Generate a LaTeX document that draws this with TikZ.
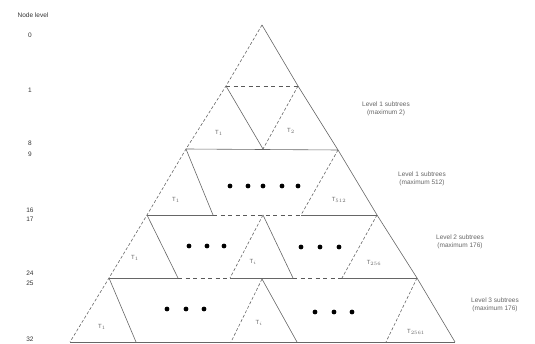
\documentclass[tikz,border=0pt]{standalone}
\usepackage{fontspec}
\setmainfont{Liberation Sans}
\begin{document}
\begin{tikzpicture}[x=1pt,y=-1pt,
  sl/.style={draw=black!60, line width=0.6pt},
  dl/.style={draw=black!60, line width=0.6pt, dash pattern=on 3pt off 2pt},
  hd/.style={draw=black!65, line width=0.6pt, dash pattern=on 4pt off 3.5pt},
  bigdot/.style={circle, fill=black, inner sep=0pt, minimum size=4.8pt},
  tlabel/.style={font=\fontsize{6}{7}\selectfont, text=black!60, inner sep=0pt},
  lvl/.style={font=\fontsize{6.5}{7}\selectfont, text=black!80, inner sep=0pt},
  side/.style={font=\fontsize{6.5}{8.5}\selectfont, text=black!60, align=center, inner sep=0pt}]
\useasboundingbox (0,0) rectangle (535,344);
% key coordinates
\coordinate (A) at (262,25);
\coordinate (L1) at (226,86);   \coordinate (R1) at (298,86);
\coordinate (L9) at (186,149);  \coordinate (M9) at (263,149);  \coordinate (R9) at (338,150);
\coordinate (L17) at (147,215); \coordinate (R17) at (377,215);
\coordinate (a17) at (213,215); \coordinate (b17) at (301,215); \coordinate (M17) at (263,215);
\coordinate (L25) at (109,278); \coordinate (R25) at (417,278);
\coordinate (a25) at (178,278); \coordinate (b25) at (230,278); \coordinate (c25) at (293,278); \coordinate (d25) at (342,278);
\coordinate (M25) at (262,279);
\coordinate (L32) at (70,342);  \coordinate (R32) at (455,342);
\coordinate (a32) at (136,342); \coordinate (b32) at (231,342); \coordinate (c32) at (297,342); \coordinate (d32) at (386,342);
% outer triangle
\draw[dl] (A) -- (L1) -- (L9) -- (L17) -- (L25) -- (L32);
\draw[sl] (A) -- (R1) -- (R9) -- (R17) -- (R25) -- (R32);
\draw[sl] (L32) -- (R32);
% level 1
\draw[hd] (L1) -- (R1);
\draw[sl] (L1) -- (M9);
\draw[dl] (R1) -- (M9);
% level 9
\draw[sl] (L9) -- (R9);
\draw[sl] (L9) -- (a17);
\draw[dl] (R9) -- (b17);
% level 17
\draw[sl] (L17) -- (a17);
\draw[hd] (a17) -- (b17);
\draw[sl] (b17) -- (R17);
\draw[sl] (L17) -- (a25);
\draw[dl] (M17) -- (b25);
\draw[sl] (M17) -- (c25);
\draw[dl] (R17) -- (d25);
% level 25
\draw[sl] (L25) -- (a25);
\draw[hd] (a25) -- (b25);
\draw[sl] (b25) -- (c25);
\draw[hd] (c25) -- (d25);
\draw[sl] (d25) -- (R25);
\draw[sl] (L25) -- (a32);
\draw[dl] (M25) -- (b32);
\draw[sl] (M25) -- (c32);
\draw[dl] (R25) -- (d32);
% dots
\foreach \x [count=\i] in {230,248,263,282,298} \node[bigdot] (p\i) at (\x,186) {};
\foreach \x [count=\i] in {189,207,224} \node[bigdot] (q\i) at (\x,246) {};
\foreach \x [count=\i] in {301,320,339} \node[bigdot] (r\i) at (\x,247) {};
\foreach \x [count=\i] in {167,186,204} \node[bigdot] (s\i) at (\x,309) {};
\foreach \x [count=\i] in {315,334,352} \node[bigdot] (u\i) at (\x,312) {};
% triangle labels
\node[tlabel] (t1) at (219,133) {T$_{1}$};
\node[tlabel] (t2) at (291,131) {T$_{2}$};
\node[tlabel] (t3) at (176,200) {T$_{1}$};
\node[tlabel] (t4) at (339,200) {T$_{512}$};
\node[tlabel] (t5) at (135,258) {T$_{1}$};
\node[tlabel] (t6) at (253,262) {T$_{i}$};
\node[tlabel] (t7) at (374,263) {T$_{256}$};
\node[tlabel] (t8) at (102,327) {T$_{1}$};
\node[tlabel] (t9) at (259,323) {T$_{i}$};
\node[tlabel] (t10) at (416,332) {T$_{2561}$};
% node levels
\node[lvl] (nl) at (33,15) {Node level};
\node[lvl] (n0) at (30,35) {0};
\node[lvl] (n1) at (30,90) {1};
\node[lvl] (n8) at (30,143) {8};
\node[lvl] (n9) at (30,154) {9};
\node[lvl] (n16) at (30,210) {16};
\node[lvl] (n17) at (30,219) {17};
\node[lvl] (n24) at (30,273) {24};
\node[lvl] (n25) at (30,283) {25};
\node[lvl] (n32) at (30,339) {32};
% side labels
\node[side] (s1) at (386,109) {Level 1 subtrees\\(maximum 2)};
\node[side] (s2) at (422,179) {Level 1 subtrees\\(maximum 512)};
\node[side] (s3) at (460,242) {Level 2 subtrees\\(maximum 176)};
\node[side] (s4) at (495,305) {Level 3 subtrees\\(maximum 176)};
\end{tikzpicture}
\end{document}
